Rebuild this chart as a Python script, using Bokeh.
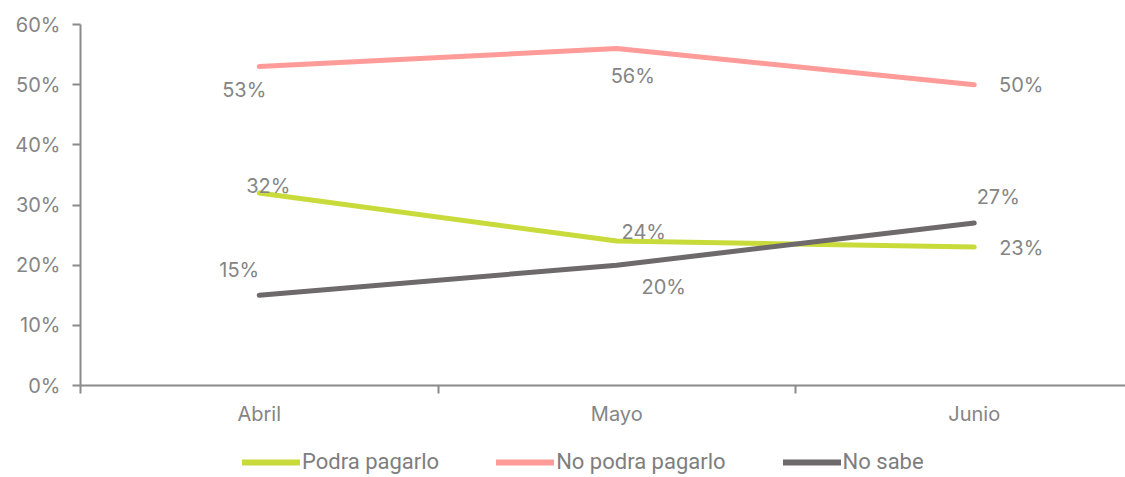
from bokeh.plotting import figure
from bokeh.layouts import column
from bokeh.models import Range1d, FixedTicker, Legend, LegendItem, ColumnDataSource
from bokeh.core.properties import value
from bokeh.embed import file_html
from bokeh.resources import INLINE

months = ["Abril", "Mayo", "Junio"]
podra = [32, 24, 23]
no_podra = [53, 56, 50]
no_sabe = [15, 20, 27]
y_ticks = [0, 10, 20, 30, 40, 50, 60]

# label offsets in screen px (x right, y down)
off_podra = ([9, 27, 47], [-7, -9, 1])
off_nopodra = ([-15, 16, 47], [23, 27, 0])
off_nosabe = ([-20, 47, 24], [-25, 22, -26])

GREEN = "#C9DA3B"
PINK = "#FF9C99"
DARK = "#6E696A"
AXIS = "#8A8A8A"
TXT = "#858585"
FONT = "Inter"

xs = [i + 0.5 for i in range(len(months))]

p = figure(width=1125, height=430, frame_width=1045, frame_height=361,
           x_range=Range1d(0, 1045 / 357.5), y_range=Range1d(0, 60),
           output_backend="svg", toolbar_location=None,
           min_border_left=80, min_border_right=0, min_border_top=24,
           min_border_bottom=0)
p.outline_line_color = None
p.xgrid.visible = False
p.ygrid.visible = False

# axes
p.yaxis.ticker = FixedTicker(ticks=y_ticks)
p.yaxis.major_label_overrides = {t: f"{t}%" for t in y_ticks}
p.yaxis.axis_line_color = AXIS
p.yaxis.axis_line_width = 2
p.yaxis.major_tick_line_color = AXIS
p.yaxis.major_tick_line_width = 2
p.yaxis.major_tick_out = 8
p.yaxis.major_tick_in = 0
p.yaxis.minor_tick_line_color = None
p.yaxis.major_label_text_font = FONT
p.yaxis.major_label_text_font_size = "20px"
p.yaxis.major_label_text_color = TXT
p.yaxis.major_label_standoff = 12

p.xaxis.ticker = FixedTicker(ticks=xs, minor_ticks=list(range(len(months) + 1)))
p.xaxis.major_label_overrides = {x: m for x, m in zip(xs, months)}
p.xaxis.axis_line_color = AXIS
p.xaxis.axis_line_width = 2
p.xaxis.major_tick_line_color = None
p.xaxis.major_tick_out = 0
p.xaxis.major_tick_in = 0
p.xaxis.minor_tick_line_color = AXIS
p.xaxis.minor_tick_line_width = 2
p.xaxis.minor_tick_out = 8
p.xaxis.minor_tick_in = 0
p.xaxis.major_label_text_font = FONT
p.xaxis.major_label_text_font_size = "20px"
p.xaxis.major_label_text_color = TXT
p.xaxis.major_label_standoff = 8

# legend strip as a separate figure (its lines fall outside its view)
lg = figure(width=1125, height=47, x_range=Range1d(-10, -9), y_range=Range1d(-10, -9),
            output_backend="svg", toolbar_location=None,
            min_border=0, min_border_left=0, min_border_right=0,
            min_border_top=0, min_border_bottom=0)
lg.axis.visible = False
lg.grid.visible = False
lg.outline_line_color = None

items = []
for name, vals, col, off in [("Podra pagarlo", podra, GREEN, off_podra),
                             ("No podra pagarlo", no_podra, PINK, off_nopodra),
                             ("No sabe", no_sabe, DARK, off_nosabe)]:
    p.line(xs, vals, line_color=col, line_width=5, line_cap="round", line_join="round")
    src = ColumnDataSource(dict(x=xs, y=vals, t=[f"{v}%" for v in vals],
                                xo=off[0], yo=off[1]))
    p.text("x", "y", text="t", source=src, x_offset="xo", y_offset="yo",
           text_align="center", text_baseline="middle",
           text_font=value(FONT), text_font_size="20px", text_color=TXT)
    lr = lg.line(xs, vals, line_color=col, line_width=6, line_cap="round")
    items.append(LegendItem(label=name, renderers=[lr]))

legend = Legend(items=items, orientation="horizontal", location=(162, 1),
                border_line_color=None, background_fill_alpha=0,
                label_text_font="Roboto",
                label_text_font_size="22px", label_text_color="#7E7E7E",
                glyph_width=58, glyph_height=22, label_standoff=2, spacing=57,
                padding=0, margin=0, label_height=22)
lg.add_layout(legend, "center")

layout = column(p, lg, spacing=0)
open("out.html", "w").write(file_html(layout, INLINE))
